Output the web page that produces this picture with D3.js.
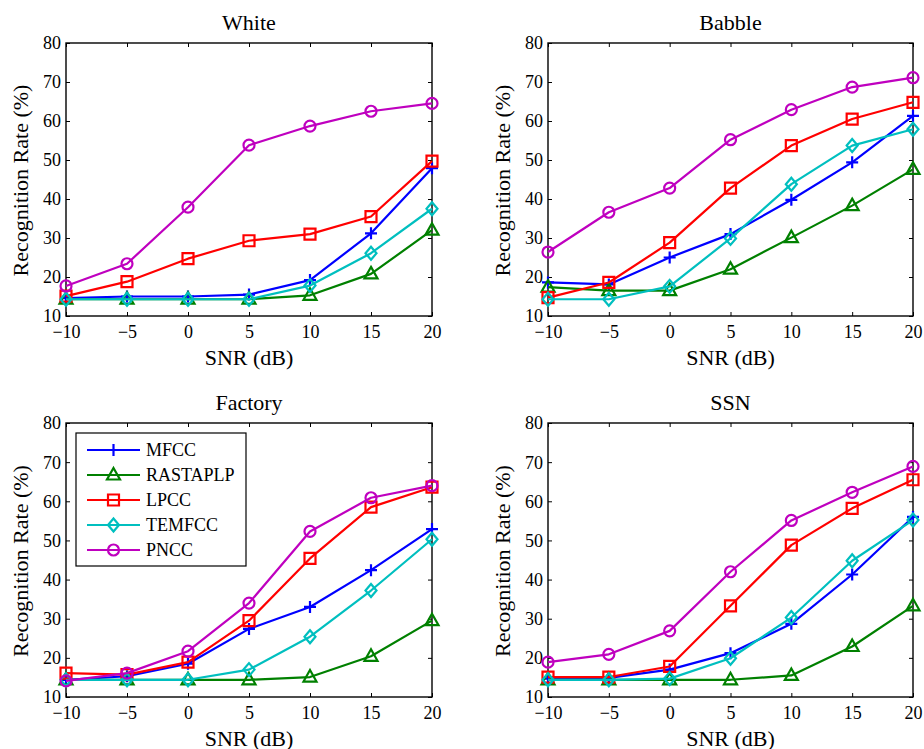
<!DOCTYPE html>
<html><head><meta charset="utf-8">
<script src="https://cdn.jsdelivr.net/npm/d3@7"></script>
<style>body{margin:0;background:#fff}svg{display:block}text{font-family:"Liberation Serif","Times New Roman",serif;fill:#000}</style>
</head><body><svg id="c" width="924" height="749"></svg>
<script>
const snr = [-10, -5, 0, 5, 10, 15, 20];
const xTicks = [-10, -5, 0, 5, 10, 15, 20];
const yTicks = [10, 20, 30, 40, 50, 60, 70, 80];
const methods = ["MFCC", "RASTAPLP", "LPCC", "TEMFCC", "PNCC"];
const colors = ["#0000ff", "#008000", "#ff0000", "#00bfbf", "#bf00bf"];
const markers = ["plus", "triangle", "square", "diamond", "circle"];
const titles = ["White", "Babble", "Factory", "SSN"];

const whiteMFCC = [14.6, 15.0, 15.0, 15.5, 19.2, 31.2, 47.9];
const whiteRASTA = [14.3, 14.3, 14.3, 14.3, 15.3, 20.8, 32.0];
const whiteLPCC = [15.1, 18.8, 24.7, 29.3, 31.0, 35.5, 49.7];
const whiteTEMFCC = [14.3, 14.3, 14.3, 14.3, 17.8, 26.1, 37.5];
const whitePNCC = [17.7, 23.4, 37.9, 53.8, 58.7, 62.5, 64.5];

const babbleMFCC = [18.6, 18.1, 25.0, 31.0, 39.8, 49.4, 61.3];
const babbleRASTA = [17.4, 16.5, 16.5, 22.0, 30.1, 38.3, 47.6];
const babbleLPCC = [14.7, 18.6, 28.8, 42.8, 53.7, 60.5, 64.8];
const babbleTEMFCC = [14.3, 14.3, 17.6, 29.9, 43.8, 53.7, 57.9];
const babblePNCC = [26.4, 36.6, 42.8, 55.2, 62.9, 68.7, 71.1];

const factoryMFCC = [14.4, 15.3, 18.5, 27.4, 33.0, 42.4, 52.9];
const factoryRASTA = [14.4, 14.4, 14.4, 14.4, 15.1, 20.4, 29.5];
const factoryLPCC = [16.1, 15.7, 18.9, 29.5, 45.4, 58.5, 63.6];
const factoryTEMFCC = [14.4, 14.4, 14.4, 17.0, 25.4, 37.2, 50.3];
const factoryPNCC = [14.1, 16.1, 21.7, 34.0, 52.3, 60.9, 64.0];

const ssnMFCC = [14.7, 14.9, 17.0, 21.2, 28.7, 41.3, 56.0];
const ssnRASTA = [14.4, 14.4, 14.4, 14.4, 15.5, 22.9, 33.3];
const ssnLPCC = [15.1, 15.1, 17.8, 33.3, 48.8, 58.2, 65.5];
const ssnTEMFCC = [14.4, 14.4, 14.7, 19.9, 30.3, 44.8, 55.2];
const ssnPNCC = [18.9, 20.9, 26.9, 42.0, 55.1, 62.3, 68.9];

const panelData = [
  [whiteMFCC, whiteRASTA, whiteLPCC, whiteTEMFCC, whitePNCC],
  [babbleMFCC, babbleRASTA, babbleLPCC, babbleTEMFCC, babblePNCC],
  [factoryMFCC, factoryRASTA, factoryLPCC, factoryTEMFCC, factoryPNCC],
  [ssnMFCC, ssnRASTA, ssnLPCC, ssnTEMFCC, ssnPNCC]
];

const svg = d3.select("#c");
const boxes = [
  {x0: 66, x1: 432, y0: 43, y1: 316},
  {x0: 548, x1: 913, y0: 43, y1: 316},
  {x0: 66, x1: 432, y0: 423, y1: 697},
  {x0: 548, x1: 913, y0: 423, y1: 697}
];

function markerPath(type) {
  switch (type) {
    case "plus": return "M-6,0H6M0,-6V6";
    case "triangle": return "M0,-7L6.5,4.5L-6.5,4.5Z";
    case "square": return "M-5.5,-5.5H5.5V5.5H-5.5Z";
    case "diamond": return "M0,-6.5L5.5,0L0,6.5L-5.5,0Z";
    case "circle": return "M-5.5,0A5.5,5.5 0 1,0 5.5,0A5.5,5.5 0 1,0 -5.5,0Z";
  }
}

const FONT = '"Liberation Serif","Times New Roman",serif';

boxes.forEach((b, pi) => {
  const x = d3.scaleLinear().domain([-10, 20]).range([b.x0, b.x1]);
  const y = d3.scaleLinear().domain([10, 80]).range([b.y1, b.y0]);
  const g = svg.append("g");
  const tl = 4;
  const bx = g.append("g").attr("transform", `translate(0,${b.y1})`)
    .call(d3.axisBottom(x).tickValues(xTicks).tickSize(-tl).tickFormat(d3.format("d")));
  const tx = g.append("g").attr("transform", `translate(0,${b.y0})`)
    .call(d3.axisTop(x).tickValues(xTicks).tickSize(-tl).tickFormat(""));
  const ly = g.append("g").attr("transform", `translate(${b.x0},0)`)
    .call(d3.axisLeft(y).tickValues(yTicks).tickSize(-tl));
  const ry = g.append("g").attr("transform", `translate(${b.x1},0)`)
    .call(d3.axisRight(y).tickValues(yTicks).tickSize(-tl).tickFormat(""));
  [bx, tx, ly, ry].forEach(a => {
    a.attr("font-family", FONT).attr("font-size", 18);
    a.select(".domain").remove();
    a.selectAll("line").attr("stroke", "#000").attr("stroke-width", 1);
    a.selectAll("text").style("font-family", FONT).style("font-size", "18px").attr("fill", "#000");
  });
  bx.selectAll("text").attr("y", 22).attr("dy", 0);
  ly.selectAll("text").attr("x", -5).attr("dy", "0.33em");

  g.append("rect").attr("x", b.x0).attr("y", b.y0).attr("width", b.x1 - b.x0).attr("height", b.y1 - b.y0)
    .attr("fill", "none").attr("stroke", "#000").attr("stroke-width", 1.4);

  g.append("text").attr("x", (b.x0 + b.x1) / 2).attr("y", b.y0 - 13).attr("text-anchor", "middle")
    .style("font-size", "22px").text(titles[pi]);
  g.append("text").attr("x", (b.x0 + b.x1) / 2).attr("y", b.y1 + 49).attr("text-anchor", "middle")
    .style("font-size", "22px").text("SNR (dB)");
  g.append("text").attr("transform", `translate(${b.x0 - 38},${(b.y0 + b.y1) / 2 + 1}) rotate(-90)`)
    .attr("text-anchor", "middle").style("font-size", "22px").text("Recognition Rate (%)");

  const line = d3.line().x((d, i) => x(snr[i])).y(d => y(d));
  panelData[pi].forEach((vals, si) => {
    const sg = g.append("g");
    sg.append("path").datum(vals).attr("d", line).attr("fill", "none")
      .attr("stroke", colors[si]).attr("stroke-width", 2.2).attr("stroke-linejoin", "round");
    sg.selectAll("path.m").data(vals).enter().append("path").attr("class", "m")
      .attr("transform", (d, i) => `translate(${x(snr[i])},${y(d)})`)
      .attr("d", markerPath(markers[si])).attr("fill", "none")
      .attr("stroke", colors[si]).attr("stroke-width", 2.2);
  });

  if (pi === 2) {
    const lg = g.append("g");
    lg.append("rect").attr("x", 76).attr("y", 433).attr("width", 170).attr("height", 133)
      .attr("fill", "#fff").attr("stroke", "#000").attr("stroke-width", 1.2);
    methods.forEach((m, si) => {
      const yy = 450 + si * 25;
      lg.append("line").attr("x1", 87).attr("x2", 140).attr("y1", yy).attr("y2", yy)
        .attr("stroke", colors[si]).attr("stroke-width", 2.2);
      lg.append("path").attr("transform", `translate(113.5,${yy})`).attr("d", markerPath(markers[si]))
        .attr("fill", "none").attr("stroke", colors[si]).attr("stroke-width", 2.2);
      lg.append("text").attr("x", 146).attr("y", yy).attr("dy", "0.35em").style("font-size", "18px").text(m);
    });
  }
});
</script></body></html>
